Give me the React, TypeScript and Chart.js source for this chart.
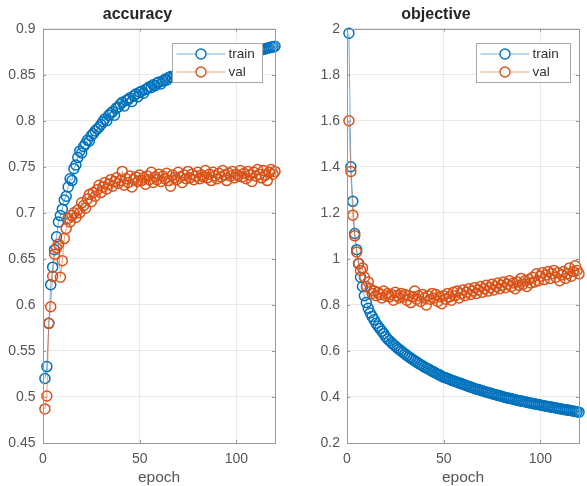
import { useEffect, useRef } from "react";
import { Chart, registerables } from "chart.js";

Chart.register(...registerables);

// ---- training history (one value per epoch, epochs 1..120) ----
const accuracyTrain = [
  0.520, 0.533, 0.580, 0.622, 0.641, 0.660, 0.674, 0.690, 0.697, 0.704,
  0.714, 0.718, 0.728, 0.737, 0.735, 0.748, 0.752, 0.760, 0.767, 0.765,
  0.772, 0.775, 0.779, 0.778, 0.784, 0.786, 0.789, 0.791, 0.793, 0.796,
  0.799, 0.802, 0.800, 0.806, 0.808, 0.810, 0.806, 0.814, 0.815, 0.818,
  0.820, 0.816, 0.822, 0.823, 0.825, 0.821, 0.827, 0.829, 0.826, 0.831,
  0.832, 0.830, 0.834, 0.835, 0.837, 0.836, 0.839, 0.838, 0.841, 0.842,
  0.840, 0.843, 0.845, 0.844, 0.847, 0.848, 0.847, 0.849, 0.850, 0.851,
  0.852, 0.851, 0.853, 0.854, 0.855, 0.854, 0.856, 0.857, 0.858, 0.857,
  0.859, 0.860, 0.860, 0.861, 0.862, 0.861, 0.863, 0.864, 0.864, 0.865,
  0.866, 0.865, 0.867, 0.868, 0.867, 0.869, 0.870, 0.869, 0.871, 0.871,
  0.872, 0.872, 0.873, 0.873, 0.874, 0.874, 0.875, 0.875, 0.876, 0.876,
  0.877, 0.877, 0.877, 0.878, 0.878, 0.879, 0.879, 0.880, 0.880, 0.881,
];

const accuracyVal = [
  0.487, 0.501, 0.580, 0.598, 0.631, 0.655, 0.662, 0.666, 0.630, 0.648,
  0.672, 0.683, 0.694, 0.690, 0.697, 0.700, 0.695, 0.703, 0.700, 0.711,
  0.708, 0.705, 0.715, 0.720, 0.712, 0.722, 0.718, 0.725, 0.730, 0.722,
  0.728, 0.733, 0.726, 0.731, 0.736, 0.729, 0.734, 0.738, 0.732, 0.735,
  0.745, 0.730, 0.737, 0.733, 0.740, 0.728, 0.736, 0.739, 0.734, 0.741,
  0.735, 0.738, 0.731, 0.740, 0.736, 0.744, 0.733, 0.739, 0.736, 0.742,
  0.734, 0.740, 0.737, 0.743, 0.735, 0.729, 0.741, 0.738, 0.736, 0.744,
  0.739, 0.733, 0.741, 0.737, 0.745, 0.738, 0.742, 0.736, 0.740, 0.744,
  0.737, 0.741, 0.739, 0.746, 0.738, 0.742, 0.735, 0.744, 0.740, 0.737,
  0.743, 0.739, 0.746, 0.741, 0.735, 0.743, 0.740, 0.745, 0.738, 0.742,
  0.740, 0.746, 0.739, 0.743, 0.737, 0.745, 0.741, 0.734, 0.744, 0.740,
  0.747, 0.742, 0.738, 0.746, 0.741, 0.735, 0.744, 0.747, 0.742, 0.745,
];

const objectiveTrain = [
  1.980, 1.400, 1.250, 1.110, 1.040, 0.980, 0.920, 0.880, 0.840, 0.810,
  0.785, 0.765, 0.750, 0.735, 0.720, 0.708, 0.697, 0.686, 0.675, 0.662,
  0.652, 0.644, 0.636, 0.628, 0.621, 0.613, 0.607, 0.600, 0.593, 0.587,
  0.580, 0.574, 0.569, 0.563, 0.557, 0.552, 0.546, 0.541, 0.536, 0.530,
  0.526, 0.522, 0.517, 0.512, 0.508, 0.503, 0.499, 0.495, 0.490, 0.486,
  0.483, 0.480, 0.477, 0.473, 0.470, 0.467, 0.464, 0.461, 0.458, 0.455,
  0.452, 0.449, 0.446, 0.443, 0.440, 0.437, 0.434, 0.432, 0.429, 0.427,
  0.424, 0.422, 0.419, 0.417, 0.414, 0.412, 0.410, 0.407, 0.405, 0.403,
  0.400, 0.398, 0.396, 0.394, 0.392, 0.390, 0.388, 0.386, 0.384, 0.383,
  0.381, 0.379, 0.377, 0.375, 0.374, 0.372, 0.370, 0.368, 0.367, 0.365,
  0.363, 0.362, 0.360, 0.359, 0.357, 0.355, 0.354, 0.352, 0.351, 0.349,
  0.348, 0.346, 0.345, 0.343, 0.342, 0.340, 0.339, 0.337, 0.336, 0.334,
];

const objectiveVal = [
  1.600, 1.380, 1.190, 1.100, 1.030, 0.980, 0.950, 0.960, 0.920, 0.880,
  0.900, 0.870, 0.850, 0.860, 0.840, 0.855, 0.845, 0.830, 0.860, 0.840,
  0.850, 0.835, 0.845, 0.820, 0.855, 0.840, 0.830, 0.850, 0.835, 0.845,
  0.820, 0.840, 0.810, 0.835, 0.860, 0.825, 0.840, 0.815, 0.845, 0.830,
  0.800, 0.840, 0.825, 0.850, 0.830, 0.845, 0.815, 0.835, 0.805, 0.840,
  0.825, 0.850, 0.835, 0.820, 0.855, 0.840, 0.860, 0.830, 0.850, 0.865,
  0.840, 0.855, 0.870, 0.845, 0.860, 0.875, 0.850, 0.865, 0.880, 0.855,
  0.870, 0.885, 0.860, 0.875, 0.890, 0.865, 0.880, 0.895, 0.870, 0.885,
  0.900, 0.875, 0.890, 0.905, 0.880, 0.895, 0.870, 0.900, 0.885, 0.915,
  0.890, 0.905, 0.880, 0.910, 0.895, 0.920, 0.900, 0.935, 0.905, 0.925,
  0.940, 0.910, 0.930, 0.945, 0.915, 0.935, 0.950, 0.920, 0.940, 0.905,
  0.930, 0.945, 0.915, 0.935, 0.960, 0.925, 0.945, 0.970, 0.950, 0.935,
];

const epochTicks = [0, 50, 100];
const accuracyTicks = [0.45, 0.5, 0.55, 0.6, 0.65, 0.7, 0.75, 0.8, 0.85, 0.9];
const objectiveTicks = [0.2, 0.4, 0.6, 0.8, 1, 1.2, 1.4, 1.6, 1.8, 2];

const seriesNames = ["train", "val"];

const BLUE = "#0072BD";
const ORANGE = "#D95319";
const FONT = "'Liberation Sans', Arial, Helvetica, sans-serif";
const TEXT = "#555555";
const AXIS = "#9a9a9a";
const GRID = "#e9e9e9";

// Box around the plot area with short inward tick marks on all four sides.
const axesBox = {
  id: "axesBox",
  afterDatasetsDraw(chart: any) {
    const { ctx, chartArea: a, scales } = chart;
    ctx.save();
    ctx.strokeStyle = AXIS;
    ctx.lineWidth = 1;
    ctx.strokeRect(Math.round(a.left) + 0.5, Math.round(a.top) + 0.5,
      Math.round(a.right - a.left), Math.round(a.bottom - a.top));
    const len = 3;
    ctx.beginPath();
    for (const t of scales.x.ticks) {
      const x = Math.round(scales.x.getPixelForValue(t.value)) + 0.5;
      ctx.moveTo(x, a.bottom); ctx.lineTo(x, a.bottom - len);
      ctx.moveTo(x, a.top); ctx.lineTo(x, a.top + len);
    }
    for (const t of scales.y.ticks) {
      const y = Math.round(scales.y.getPixelForValue(t.value)) + 0.5;
      ctx.moveTo(a.left, y); ctx.lineTo(a.left + len, y);
      ctx.moveTo(a.right, y); ctx.lineTo(a.right - len, y);
    }
    ctx.stroke();
    ctx.restore();
  },
};

// Boxed legend in the upper-right corner of the plot area.
const cornerLegend = {
  id: "cornerLegend",
  afterDraw(chart: any, _args: any, opts: any) {
    const { ctx, chartArea: a } = chart;
    const w = opts.width;
    const h = 39;
    const x0 = Math.round(a.right - opts.inset - w) + 0.5;
    const y0 = Math.round(a.top + opts.top) + 0.5;
    ctx.save();
    ctx.fillStyle = "#ffffff";
    ctx.fillRect(x0, y0, w, h);
    ctx.strokeStyle = "#a8a8a8";
    ctx.lineWidth = 1;
    ctx.strokeRect(x0, y0, w, h);
    const byLabel: Record<string, any> = {};
    chart.data.datasets.forEach((d: any) => (byLabel[d.label] = d));
    seriesNames.forEach((name, i) => {
      const d = byLabel[name];
      const cy = y0 + 10.5 + i * 18;
      ctx.strokeStyle = d.borderColor;
      ctx.lineWidth = 1;
      ctx.beginPath();
      ctx.moveTo(x0 + 4, cy);
      ctx.lineTo(x0 + 53, cy);
      ctx.stroke();
      ctx.strokeStyle = d.pointBorderColor;
      ctx.lineWidth = 1.4;
      ctx.beginPath();
      ctx.arc(x0 + 28.5, cy, 5, 0, Math.PI * 2);
      ctx.fillStyle = "#ffffff";
      ctx.fill();
      ctx.stroke();
      ctx.fillStyle = "#333333";
      ctx.font = `13.5px ${FONT}`;
      ctx.textBaseline = "middle";
      ctx.textAlign = "left";
      ctx.fillText(name, x0 + 56, cy);
    });
    ctx.restore();
  },
};

type PanelProps = {
  title: string;
  train: number[];
  val: number[];
  yMin: number;
  yMax: number;
  yTicks: number[];
  axisWidth: number;
  padRight: number;
  labelGap: number;
  legendWidth: number;
  legendInset: number;
};

function series(values: number[]) {
  return values.map((y, i) => ({ x: i + 1, y }));
}

function Panel(p: PanelProps) {
  const ref = useRef<HTMLCanvasElement | null>(null);

  useEffect(() => {
    if (!ref.current) return;
    const fmt = (v: any) => String(+Number(v).toFixed(2));
    const chart = new Chart(ref.current, {
      type: "line",
      data: {
        datasets: [
          {
            label: "train",
            data: series(p.train),
            order: 1,
            borderColor: "rgba(0,114,189,0.55)",
            borderWidth: 1,
            pointRadius: 5,
            pointBorderWidth: 1.5,
            pointBorderColor: BLUE,
            pointBackgroundColor: "rgba(0,0,0,0)",
            clip: false,
          },
          {
            label: "val",
            data: series(p.val),
            order: 0,
            borderColor: "rgba(217,83,25,0.55)",
            borderWidth: 1,
            pointRadius: 5,
            pointBorderWidth: 1.5,
            pointBorderColor: ORANGE,
            pointBackgroundColor: "rgba(0,0,0,0)",
            clip: false,
          },
        ],
      },
      options: {
        animation: false,
        responsive: false,
        events: [],
        layout: { padding: { left: 0, right: p.padRight, top: 0, bottom: 0 } },
        plugins: {
          legend: { display: false },
          tooltip: { enabled: false },
          title: {
            display: true,
            text: p.title,
            color: "#262626",
            font: { family: FONT, size: 16, weight: "bold" },
            padding: { top: 5, bottom: 4.5 },
          },
          cornerLegend: { width: p.legendWidth, inset: p.legendInset, top: 14 },
        } as any,
        scales: {
          x: {
            type: "linear",
            min: 0,
            max: 120,
            afterBuildTicks: (s: any) => {
              s.ticks = epochTicks.map((value) => ({ value }));
            },
            afterFit: (s: any) => {
              s.height = 43;
            },
            grid: { color: GRID, drawTicks: false },
            border: { display: false },
            ticks: {
              color: TEXT,
              padding: 8,
              maxRotation: 0,
              autoSkip: false,
              font: { family: FONT, size: 14 },
              callback: fmt,
            },
            title: {
              display: true,
              text: "epoch",
              color: TEXT,
              font: { family: FONT, size: 15.5, lineHeight: 1 },
              padding: { top: 0, bottom: 1 },
            },
          },
          y: {
            type: "linear",
            min: p.yMin,
            max: p.yMax,
            afterBuildTicks: (s: any) => {
              s.ticks = p.yTicks.map((value) => ({ value }));
            },
            afterFit: (s: any) => {
              s.width = p.axisWidth;
            },
            grid: { color: GRID, drawTicks: false },
            border: { display: false },
            ticks: {
              color: TEXT,
              padding: p.labelGap,
              autoSkip: false,
              font: { family: FONT, size: 14 },
              callback: fmt,
            },
          },
        },
      },
      plugins: [axesBox, cornerLegend],
    } as any);
    return () => chart.destroy();
  }, []);

  return <canvas ref={ref} width={p.axisWidth + 232 + p.padRight} height={486} style={{ display: "block" }} />;
}

export default function App() {
  return (
    <div
      style={{
        position: "fixed",
        left: 0,
        top: 0,
        width: 587,
        height: 486,
        background: "#ffffff",
        display: "flex",
      }}
    >
      <Panel
        title="accuracy"
        train={accuracyTrain}
        val={accuracyVal}
        yMin={0.45}
        yMax={0.9}
        yTicks={accuracyTicks}
        axisWidth={43}
        padRight={18}
        labelGap={7.5}
        legendWidth={90}
        legendInset={13}
      />
      <Panel
        title="objective"
        train={objectiveTrain}
        val={objectiveVal}
        yMin={0.2}
        yMax={2}
        yTicks={objectiveTicks}
        axisWidth={54}
        padRight={12}
        labelGap={7}
        legendWidth={94}
        legendInset={9}
      />
    </div>
  );
}
